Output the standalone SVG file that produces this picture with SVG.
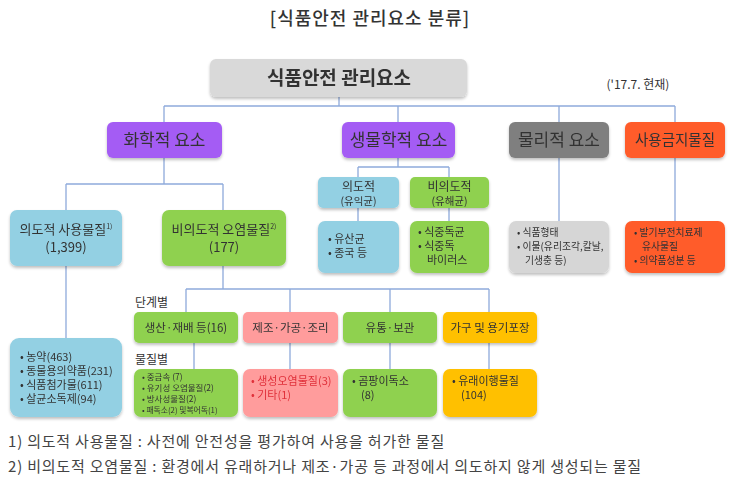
<svg xmlns="http://www.w3.org/2000/svg" width="743" height="490" viewBox="0 0 743 490">
<defs>
<filter id="sh" x="-10%" y="-10%" width="120%" height="130%"><feGaussianBlur in="SourceAlpha" stdDeviation="1.5"/><feOffset dx="0" dy="1.5"/><feComponentTransfer><feFuncA type="linear" slope="0.25"/></feComponentTransfer><feMerge><feMergeNode/><feMergeNode in="SourceGraphic"/></feMerge></filter>
</defs>
<style>
text{font-family:"Noto Sans CJK KR","Noto Sans",sans-serif;fill:#333}
.b{filter:url(#sh)}
.gray{fill:#d9d9d9}
.pur{fill:#a45cf4}
.dg{fill:#7f7f7f}
.lg{fill:#d6d6d6}
.org{fill:#ff5b2c}
.blu{fill:#93d0e3}
.grn{fill:#8fd14f}
.pnk{fill:#ff9c9c}
.gld{fill:#ffc000}
.c{text-anchor:middle}
.l1{font-size:17px}
.l2{font-size:13px}
.l3{font-size:11px}
.l4{font-size:9.8px}
.sup{font-size:7px}
.ln{stroke:#8eaadb;stroke-width:1.3;fill:none}
.red{fill:#e0303a}
.fn{font-size:15px;fill:#444;letter-spacing:0.8px}
</style>
<text x="370" y="25" class="c" style="font-size:18px;font-weight:500;letter-spacing:1px">[식품안전 관리요소 분류]</text>
<text x="638" y="89" class="c" style="font-size:12px">('17.7. 현재)</text>
<g id="connectors">
<path class="ln" d="M339 97V106M164 106H675M164 106V122M398 106V122M559 106V122M675 106V122"/>
<path class="ln" d="M164 158V184M66 184H223M66 184V210M223 184V210"/>
<path class="ln" d="M398 158V167M358 167H449M358 167V177M449 167V177M358 208V221M449 208V221"/>
<path class="ln" d="M559 158V221M675 158V221"/>
<path class="ln" d="M66 266V338"/>
<path class="ln" d="M223 266V289M186 289H489M186 289V312M290 289V312M390 289V312M489 289V312"/>
<path class="ln" d="M194 343V369M290 343V369M390 343V369M489 343V369"/>
</g>
<g id="root" class="b"><rect x="210" y="59" width="257" height="38" rx="6" class="gray"/><text x="339" y="85" class="c" style="font-size:19px;font-weight:bold">식품안전 관리요소</text></g>
<g id="chem" class="b"><rect x="107" y="122" width="115" height="36" rx="6" class="pur"/><text x="164.5" y="146" class="c l1">화학적 요소</text></g>
<g id="bio" class="b"><rect x="342" y="122" width="113" height="36" rx="6" class="pur"/><text x="398.5" y="146" class="c l1">생물학적 요소</text></g>
<g id="phys" class="b"><rect x="509" y="122" width="100" height="36" rx="6" class="dg"/><text x="559" y="146" class="c l1">물리적 요소</text></g>
<g id="ban" class="b"><rect x="625" y="122" width="100" height="36" rx="6" class="org"/><text x="675" y="145" class="c" style="font-size:14.5px">사용금지물질</text></g>
<g id="intent" class="b"><rect x="10" y="210" width="112" height="56" rx="7" class="blu"/><text x="66" y="234" class="c l2">의도적 사용물질<tspan class="sup" dy="-5">1)</tspan></text><text x="66" y="252" class="c l2">(1,399)</text></g>
<g id="unintent" class="b"><rect x="162" y="210" width="124" height="56" rx="7" class="grn"/><text x="224" y="234" class="c l2">비의도적 오염물질<tspan class="sup" dy="-5">2)</tspan></text><text x="224" y="252" class="c l2">(177)</text></g>
<g id="bio-int" class="b"><rect x="318" y="177" width="81" height="31" rx="5" class="blu"/><text x="358.5" y="191" class="c" style="font-size:12px">의도적</text><text x="358.5" y="205" class="c" style="font-size:10.5px">(유익균)</text></g>
<g id="bio-unint" class="b"><rect x="410" y="177" width="79" height="31" rx="5" class="grn"/><text x="449.5" y="191" class="c" style="font-size:12px">비의도적</text><text x="449.5" y="205" class="c" style="font-size:10.5px">(유해균)</text></g>
<g id="bio-int-list" class="b"><rect x="318" y="221" width="81" height="52" rx="7" class="blu"/><text x="328" y="243" class="l3">• 유산균</text><text x="328" y="257" class="l3">• 종국 등</text></g>
<g id="bio-unint-list" class="b"><rect x="410" y="221" width="79" height="52" rx="7" class="grn"/><text x="418" y="236" class="l3">• 식중독균</text><text x="418" y="250" class="l3">• 식중독</text><text x="427" y="264" class="l3">바이러스</text></g>
<g id="phys-list" class="b"><rect x="509" y="221" width="100" height="52" rx="7" class="lg"/><text x="517" y="236" class="l4">• 식품형태</text><text x="517" y="250" class="l4">• 이물(유리조각,칼날,</text><text x="525" y="264" class="l4">기생충 등)</text></g>
<g id="ban-list" class="b"><rect x="625" y="221" width="100" height="52" rx="7" class="org"/><text x="634" y="236" class="l4">• 발기부전치료제</text><text x="642" y="250" class="l4">유사물질</text><text x="634" y="264" class="l4">• 의약품성분 등</text></g>
<g id="intent-list" class="b"><rect x="10" y="338" width="112" height="79" rx="9" class="blu"/><text x="20" y="361" class="l3">• 농약(463)</text><text x="20" y="375" class="l3">• 동물용의약품(231)</text><text x="20" y="389" class="l3">• 식품첨가물(611)</text><text x="20" y="403" class="l3">• 살균소독제(94)</text></g>
<text x="135" y="307" style="font-size:12px">단계별</text>
<text x="135" y="364" style="font-size:12px">물질별</text>
<g id="stage1" class="b"><rect x="134" y="312" width="104" height="31" rx="5" class="grn"/><text x="186" y="332" class="c" style="font-size:11.5px">생산·재배 등(16)</text></g>
<g id="stage2" class="b"><rect x="243" y="312" width="95" height="31" rx="5" class="pnk"/><text x="290.5" y="332" class="c" style="font-size:11.5px">제조·가공·조리</text></g>
<g id="stage3" class="b"><rect x="343" y="312" width="94" height="31" rx="5" class="grn"/><text x="390" y="332" class="c" style="font-size:11.5px">유통·보관</text></g>
<g id="stage4" class="b"><rect x="443" y="312" width="94" height="31" rx="5" class="gld"/><text x="490" y="332" class="c" style="font-size:11.5px">가구 및 용기포장</text></g>
<g id="sub1" class="b"><rect x="134" y="369" width="104" height="48" rx="7" class="grn"/><text x="142" y="380" style="font-size:8.5px">• 중금속 (7)</text><text x="142" y="391" style="font-size:8.5px">• 유기성 오염물질(2)</text><text x="142" y="402" style="font-size:8.5px">• 방사성물질(2)</text><text x="142" y="413" style="font-size:7.8px">• 패독소(2) 및복어독(1)</text></g>
<g id="sub2" class="b"><rect x="243" y="369" width="95" height="48" rx="7" class="pnk"/><text x="251" y="385" class="l3 red">• 생성오염물질(3)</text><text x="251" y="399" class="l3 red">• 기타(1)</text></g>
<g id="sub3" class="b"><rect x="343" y="369" width="94" height="48" rx="7" class="grn"/><text x="352" y="385" class="l3">• 곰팡이독소</text><text x="361" y="399" class="l3">(8)</text></g>
<g id="sub4" class="b"><rect x="443" y="369" width="94" height="48" rx="7" class="gld"/><text x="452" y="385" class="l3">• 유래이행물질</text><text x="461" y="399" class="l3">(104)</text></g>
<text x="8" y="447" class="fn">1) 의도적 사용물질 : 사전에 안전성을 평가하여 사용을 허가한 물질</text>
<text x="8" y="472" class="fn">2) 비의도적 오염물질 : 환경에서 유래하거나 제조·가공 등 과정에서 의도하지 않게 생성되는 물질</text>
</svg>
